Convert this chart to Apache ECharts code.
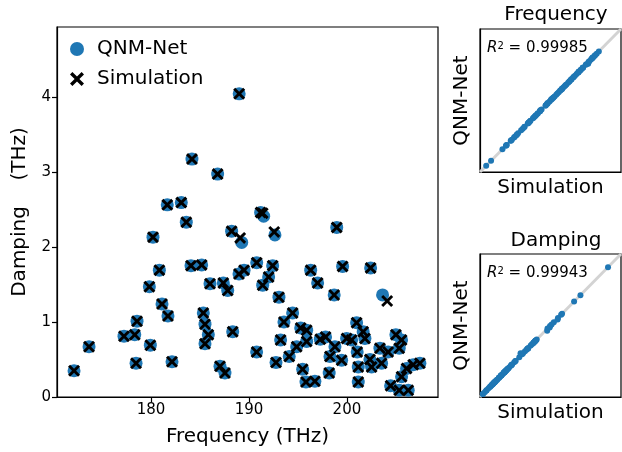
<html>
<head>
<meta charset="utf-8">
<script src="https://cdn.jsdelivr.net/npm/echarts@6/dist/echarts.min.js"></script>
</head>
<body style="margin:0">
<div id="main" style="width:622px;height:452px"></div>
<script>
// main panel: predicted (QNM-Net) and simulated modes
var predFreq = [172.14, 173.67, 177.24, 178.34, 178.57, 178.47, 179.93, 182.14, 181.12, 181.73,
    179.83, 180.85, 180.20, 181.66, 183.09, 183.60, 184.18, 186.80, 189.00, 184.08,
    185.17, 186.02, 187.38, 187.83, 188.98, 189.50, 185.34, 185.51, 185.85, 185.51,
    188.34, 187.04, 187.55, 188.23, 189.26, 191.19, 191.50, 192.65, 190.79, 192.42,
    192.01, 191.40, 193.06, 196.30, 197.01, 199.56, 198.70, 202.42, 198.96, 203.64,
    190.78, 192.76, 194.11, 193.23, 193.57, 194.46, 194.87, 195.28, 195.89, 195.89,
    195.48, 195.82, 196.73, 197.28, 197.82, 198.19, 198.78, 198.27, 199.46, 199.97,
    200.48, 200.99, 201.66, 201.84, 201.05, 201.16, 201.16, 202.35, 202.52, 203.37,
    203.54, 204.21, 205.00, 205.58, 205.34, 204.46, 205.34, 206.26, 205.58, 206.09,
    206.77, 207.45];
var predDamp = [0.35, 0.67, 0.81, 0.83, 1.01, 0.45, 0.69, 0.47, 1.24, 1.08,
    1.47, 1.69, 2.13, 2.56, 2.59, 2.33, 3.17, 2.97, 4.04, 1.75,
    1.76, 1.51, 1.52, 1.42, 1.64, 1.69, 1.12, 0.97, 0.83, 0.71,
    0.87, 0.41, 0.32, 2.21, 2.06, 2.46, 2.41, 2.16, 1.79, 1.75,
    1.60, 1.49, 1.33, 1.69, 1.52, 1.74, 1.36, 1.72, 2.26, 1.36,
    0.60, 0.46, 0.54, 0.76, 1.00, 1.12, 0.67, 0.92, 0.89, 0.74,
    0.37, 0.20, 0.21, 0.77, 0.80, 0.32, 0.67, 0.54, 0.49, 0.78,
    0.76, 0.99, 0.87, 0.78, 0.60, 0.40, 0.20, 0.50, 0.40, 0.65,
    0.45, 0.60, 0.83, 0.76, 0.65, 0.15, 0.09, 0.09, 0.27, 0.38,
    0.43, 0.45];
var simFreq = [172.14, 173.67, 177.24, 178.34, 178.57, 178.47, 179.93, 182.14, 181.12, 181.73,
    179.83, 180.85, 180.20, 181.66, 183.09, 183.60, 184.18, 186.80, 189.00, 184.08,
    185.17, 186.02, 187.38, 187.83, 188.98, 189.50, 185.34, 185.51, 185.85, 185.51,
    188.34, 187.04, 187.55, 188.23, 189.10, 191.19, 191.40, 192.58, 190.79, 192.42,
    192.01, 191.40, 193.06, 196.30, 197.01, 199.56, 198.70, 202.42, 198.96, 204.11,
    190.78, 192.76, 194.11, 193.23, 193.57, 194.46, 194.87, 195.28, 195.89, 195.89,
    195.48, 195.82, 196.73, 197.28, 197.82, 198.19, 198.78, 198.27, 199.46, 199.97,
    200.48, 200.99, 201.66, 201.84, 201.05, 201.16, 201.16, 202.35, 202.52, 203.37,
    203.54, 204.21, 205.00, 205.58, 205.34, 204.46, 205.34, 206.26, 205.58, 206.09,
    206.77, 207.45];
var simDamp = [0.35, 0.67, 0.81, 0.83, 1.01, 0.45, 0.69, 0.47, 1.24, 1.08,
    1.47, 1.69, 2.13, 2.56, 2.59, 2.33, 3.17, 2.97, 4.04, 1.75,
    1.76, 1.51, 1.52, 1.42, 1.64, 1.69, 1.12, 0.97, 0.83, 0.71,
    0.87, 0.41, 0.32, 2.21, 2.12, 2.46, 2.45, 2.20, 1.79, 1.75,
    1.60, 1.49, 1.33, 1.69, 1.52, 1.74, 1.36, 1.72, 2.26, 1.28,
    0.60, 0.46, 0.54, 0.76, 1.00, 1.12, 0.67, 0.92, 0.89, 0.74,
    0.37, 0.20, 0.21, 0.77, 0.80, 0.32, 0.67, 0.54, 0.49, 0.78,
    0.76, 0.99, 0.87, 0.78, 0.60, 0.40, 0.20, 0.50, 0.40, 0.65,
    0.45, 0.60, 0.83, 0.76, 0.65, 0.15, 0.09, 0.09, 0.27, 0.38,
    0.43, 0.45];

var freqTicks = [180, 190, 200];
var dampTicks = [0, 1, 2, 3, 4];
var freqLim = [170.2, 214.4];
var dampLim = [0, 4.45];
var r2Freq = '0.99985';
var r2Damp = '0.99943';

var FONT = 'DejaVu Sans';
var BLUE = '#1f77b4';
var CROSS = 'path://M0,1.7L1.7,0L5,3.3L8.3,0L10,1.7L6.7,5L10,8.3L8.3,10L5,6.7L1.7,10L0,8.3L3.3,5Z';

function pairs(xs, ys) {
    return xs.map(function (x, i) { return [x, ys[i]]; });
}

var chart = echarts.init(document.getElementById('main'));

var gridBox = {show: true, borderColor: '#000', borderWidth: 1.2, backgroundColor: '#fff'};

function smallAxis(idx, lim, name, gap) {
    return {
        type: 'value', gridIndex: idx, min: lim[0], max: lim[1],
        axisLine: {show: true, lineStyle: {color: '#000', width: 1.2}},
        axisTick: {show: false}, axisLabel: {show: false}, splitLine: {show: false},
        name: name, nameLocation: 'middle', nameGap: gap,
        nameTextStyle: {fontFamily: FONT, fontSize: 20, color: '#000'}
    };
}

var r2Rich = {
    it: {fontFamily: FONT, fontSize: 15, fontStyle: 'italic', fontWeight: 'normal', color: '#000'},
    sup: {fontFamily: FONT, fontSize: 10, fontWeight: 'normal', color: '#000', verticalAlign: 'top', lineHeight: 15},
    n: {fontFamily: FONT, fontSize: 15, fontWeight: 'normal', color: '#000'}
};

chart.setOption({
    animation: false,
    backgroundColor: '#fff',
    title: [
        {text: 'Frequency', left: 551, top: 0, textAlign: 'center',
            textStyle: {fontFamily: FONT, fontSize: 20, fontWeight: 'normal', color: '#000'}},
        {text: 'Damping', left: 551, top: 226, textAlign: 'center',
            textStyle: {fontFamily: FONT, fontSize: 20, fontWeight: 'normal', color: '#000'}},
        {text: '{it|R}{sup|2}{n| = ' + r2Freq + '}', left: 482, top: 36,
            textStyle: {fontWeight: 'normal', rich: r2Rich}},
        {text: '{it|R}{sup|2}{n| = ' + r2Damp + '}', left: 482, top: 261,
            textStyle: {fontWeight: 'normal', rich: r2Rich}}
    ],
    legend: {
        data: ['QNM-Net', 'Simulation'],
        orient: 'vertical', left: 65, top: 34,
        itemWidth: 30, itemHeight: 14, itemGap: 10,
        textStyle: {fontFamily: FONT, fontSize: 20, color: '#000', lineHeight: 20}
    },
    grid: [
        Object.assign({left: 57, top: 27, width: 381, height: 370}, gridBox),
        Object.assign({left: 480, top: 29, width: 141, height: 143}, gridBox),
        Object.assign({left: 480, top: 254, width: 141, height: 143}, gridBox)
    ],
    xAxis: [
        {
            type: 'value', gridIndex: 0, min: 170.4, max: 209.3,
            axisLine: {show: true, lineStyle: {color: '#000', width: 1.2}},
            axisTick: {show: true, length: 5, customValues: freqTicks, lineStyle: {color: '#000', width: 1.2}},
            axisLabel: {customValues: freqTicks, fontFamily: FONT, fontSize: 15, color: '#000', margin: 6},
            splitLine: {show: false},
            name: 'Frequency (THz)', nameLocation: 'middle', nameGap: 30,
            nameTextStyle: {fontFamily: FONT, fontSize: 20, color: '#000'}
        },
        smallAxis(1, freqLim, 'Simulation', 6),
        smallAxis(2, dampLim, 'Simulation', 6)
    ],
    yAxis: [
        {
            type: 'value', gridIndex: 0, min: 0, max: 4.93,
            axisLine: {show: true, lineStyle: {color: '#000', width: 1.2}},
            axisTick: {show: true, length: 5, customValues: dampTicks, lineStyle: {color: '#000', width: 1.2}},
            axisLabel: {customValues: dampTicks, fontFamily: FONT, fontSize: 15, color: '#000', margin: 6},
            splitLine: {show: false},
            name: 'Damping    (THz)', nameLocation: 'middle', nameGap: 27,
            nameTextStyle: {fontFamily: FONT, fontSize: 20, color: '#000'}
        },
        smallAxis(1, freqLim, 'QNM-Net', 8),
        smallAxis(2, dampLim, 'QNM-Net', 8)
    ],
    series: [
        {
            name: 'QNM-Net', type: 'scatter', xAxisIndex: 0, yAxisIndex: 0,
            symbol: 'circle', symbolSize: 13, itemStyle: {color: BLUE, opacity: 1},
            data: pairs(predFreq, predDamp), z: 2
        },
        {
            name: 'Simulation', type: 'scatter', xAxisIndex: 0, yAxisIndex: 0,
            symbol: CROSS, symbolSize: 12, itemStyle: {color: '#000', opacity: 1},
            data: pairs(simFreq, simDamp), z: 3
        },
        {
            name: 'diagF', type: 'line', xAxisIndex: 1, yAxisIndex: 1, symbol: 'none', silent: true, z: 1,
            lineStyle: {color: '#d3d3d3', width: 3},
            data: [[freqLim[0], freqLim[0]], [freqLim[1], freqLim[1]]]
        },
        {
            name: 'scatF', type: 'scatter', xAxisIndex: 1, yAxisIndex: 1, z: 3,
            symbol: 'circle', symbolSize: 6, itemStyle: {color: BLUE, opacity: 1, borderWidth: 0},
            data: pairs(simFreq, predFreq)
        },
        {
            name: 'diagD', type: 'line', xAxisIndex: 2, yAxisIndex: 2, symbol: 'none', silent: true, z: 1,
            lineStyle: {color: '#d3d3d3', width: 3},
            data: [[dampLim[0], dampLim[0]], [dampLim[1], dampLim[1]]]
        },
        {
            name: 'scatD', type: 'scatter', xAxisIndex: 2, yAxisIndex: 2, z: 3,
            symbol: 'circle', symbolSize: 6, itemStyle: {color: BLUE, opacity: 1, borderWidth: 0},
            data: pairs(simDamp, predDamp)
        }
    ]
});
</script>
</body>
</html>
